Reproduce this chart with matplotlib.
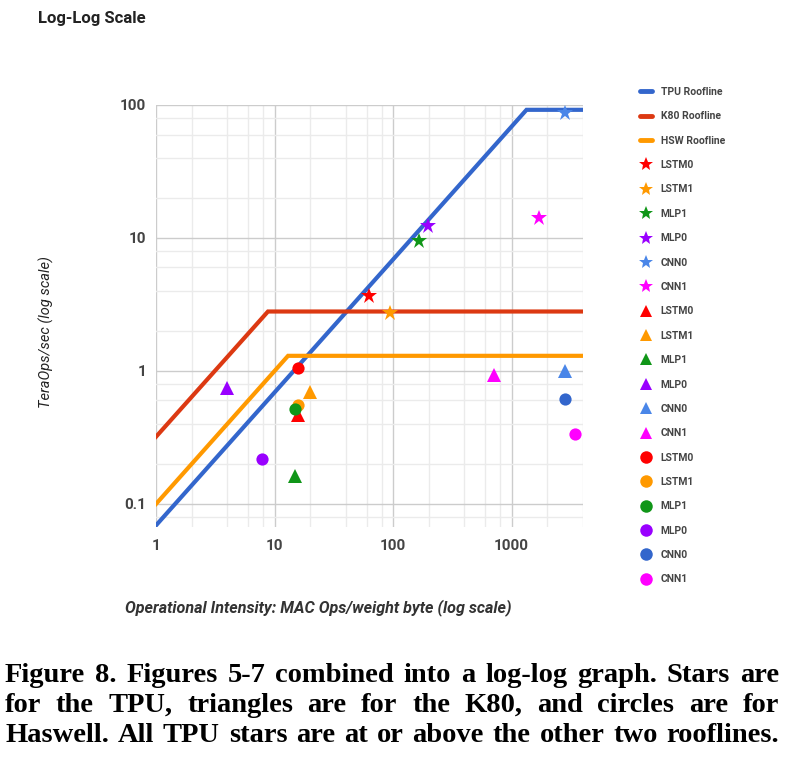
import matplotlib
matplotlib.use("Agg")
import matplotlib.pyplot as plt
from matplotlib.lines import Line2D
from matplotlib.ticker import LogLocator, FixedLocator, NullFormatter

plt.rcParams['font.family'] = ['Roboto', 'DejaVu Sans']

# data
models = ['LSTM0', 'LSTM1', 'MLP1', 'MLP0', 'CNN0', 'CNN1']

tpu_x = [63, 95, 165, 197, 2845, 1718]
tpu_y = [3.66, 2.72, 9.55, 12.3, 86.6, 14.1]
k80_x = [15.9, 19.8, 14.8, 3.97, 2845, 713]
k80_y = [0.467, 0.70, 0.163, 0.74, 1.0, 0.93]
hsw_x = [15.8, 15.8, 14.8, 7.9, 2845, 3450]
hsw_y = [1.05, 0.55, 0.52, 0.217, 0.62, 0.338]

tpu_roof_x = [1, 1335, 4000]
tpu_roof_y = [0.069, 92, 92]
k80_roof_x = [1, 8.8, 4000]
k80_roof_y = [0.32, 2.8, 2.8]
hsw_roof_x = [1, 13, 4000]
hsw_roof_y = [0.1, 1.3, 1.3]

star_colors = ['#ff0000', '#ff9900', '#109618', '#9900ff', '#4a86e8', '#ff00ff']
tri_colors = ['#ff0000', '#ff9900', '#109618', '#9900ff', '#4a86e8', '#ff00ff']
dot_colors = ['#ff0000', '#ff9900', '#109618', '#9900ff', '#3366cc', '#ff00ff']

caption = [
    "Figure 8. Figures 5-7 combined into a log-log graph. Stars are",
    "for the TPU, triangles are for the K80, and circles are for",
    "Haswell. All TPU stars are at or above the other two rooflines.",
]

W, H = 793, 763
fig = plt.figure(figsize=(W / 100, H / 100), dpi=100)
ax = fig.add_axes([156 / W, 1 - 527 / H, 427 / W, 422 / H])

handles = []
for rx, ry, c, name in [(tpu_roof_x, tpu_roof_y, '#3366cc', 'TPU Roofline'),
                        (k80_roof_x, k80_roof_y, '#dc3912', 'K80 Roofline'),
                        (hsw_roof_x, hsw_roof_y, '#ff9900', 'HSW Roofline')]:
    ax.plot(rx, ry, color=c, lw=3, solid_joinstyle='miter', zorder=3)
    handles.append(Line2D([], [], color=c, lw=3.5, solid_capstyle='round', label=name))

for xs, ys, cols, mk, ms in [(tpu_x, tpu_y, star_colors, '*', 12),
                             (k80_x, k80_y, tri_colors, '^', 10),
                             (hsw_x, hsw_y, dot_colors, 'o', 8.8)]:
    for x, y, c, name in zip(xs, ys, cols, models):
        ax.plot([x], [y], ls='none', marker=mk, ms=ms, color=c, mec=c, mew=0, zorder=4)
        handles.append(Line2D([], [], ls='none', marker=mk, color=c, mew=0,
                              ms={'*': 10, '^': 8, 'o': 9}[mk], label=name))

ax.set_xscale('log')
ax.set_yscale('log')
ax.set_xlim(1, 4000)
ax.set_ylim(0.0671, 100)

ax.xaxis.set_major_locator(FixedLocator([1, 10, 100, 1000]))
ax.yaxis.set_major_locator(FixedLocator([0.1, 1, 10, 100]))
ax.set_xticklabels(['1', '10', '100', '1000'])
ax.set_yticklabels(['0.1', '1', '10', '100'])
ax.xaxis.set_minor_locator(LogLocator(base=10, subs=[2, 4, 6, 8], numticks=20))
ax.yaxis.set_minor_locator(LogLocator(base=10, subs=[2, 4, 6, 8], numticks=20))
ax.xaxis.set_minor_formatter(NullFormatter())
ax.yaxis.set_minor_formatter(NullFormatter())

ax.grid(True, which='major', color='#cccccc', lw=1)
ax.grid(True, which='minor', color='#ebebeb', lw=1)
ax.set_axisbelow(True)
for s in ax.spines.values():
    s.set_visible(False)
ax.tick_params(which='both', length=0)
ax.tick_params(axis='x', pad=9, labelsize=11, labelcolor='#444444')
ax.tick_params(axis='y', pad=7, labelsize=11, labelcolor='#444444')
for lab in ax.get_xticklabels() + ax.get_yticklabels():
    lab.set_fontweight('bold')

fig.text(38 / W, 1 - 18 / H, 'Log-Log Scale', ha='left', va='center',
         fontsize=12, fontweight='bold', color='#222222')
fig.text(46 / W, 1 - 332 / H, 'TeraOps/sec (log scale)', rotation=90,
         ha='center', va='center', fontsize=10.5, style='italic', color='#222222')
fig.text(125 / W, 1 - 608 / H, 'Operational Intensity: MAC Ops/weight byte (log scale)',
         ha='left', va='center', fontsize=11.6, style='italic', fontweight='bold',
         color='#333333')

fig.legend(handles=handles, loc='upper left', bbox_to_anchor=(640 / W, 1 - 87 / H),
           frameon=False, prop={'family': 'Roboto', 'weight': 'bold', 'size': 7.5},
           labelcolor='#444444', handlelength=1.15, handletextpad=0.85,
           labelspacing=1.38, borderpad=0, borderaxespad=0)

# justified caption, one text per word
fig.canvas.draw()
renderer = fig.canvas.get_renderer()
left, right = 5, 779
for i, line in enumerate(caption):
    words = line.split()
    texts = [fig.text(0, 0, w, fontsize=20.5, fontweight='bold',
                      family=['Liberation Serif', 'DejaVu Serif'], va='baseline')
             for w in words]
    widths = [t.get_window_extent(renderer).width for t in texts]
    gap = (right - left - sum(widths)) / (len(words) - 1)
    x = left
    yb = 1 - (682 + 30 * i) / H
    for t, w in zip(texts, widths):
        t.set_position((x / W, yb))
        x += w + gap

fig.savefig('out.png', dpi=100)
